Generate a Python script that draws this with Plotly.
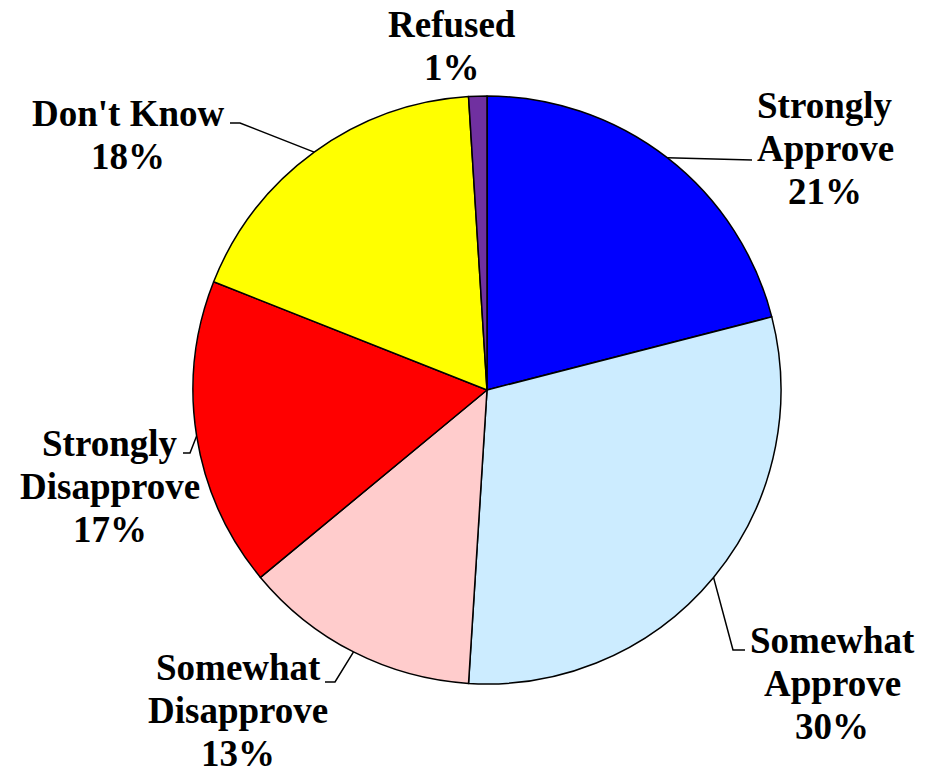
import numpy as np
import plotly.graph_objects as go

# ---- data ----
categories = ["Strongly Approve", "Somewhat Approve", "Somewhat Disapprove",
              "Strongly Disapprove", "Don't Know", "Refused"]
label_lines = [["Strongly", "Approve"], ["Somewhat", "Approve"], ["Somewhat", "Disapprove"],
               ["Strongly", "Disapprove"], ["Don't Know"], ["Refused"]]
values = [21, 30, 13, 17, 18, 1]

# ---- styles / layout ----
colors = ["#0000FF", "#CCECFF", "#FFCCCC", "#FF0000", "#FFFF00", "#7030A0"]
W, H = 929, 772
CX, CY, R = 487, 390, 294
FONT = "Liberation Serif, Times New Roman, serif"
FSIZE = 37
LINE_H = 43
label_xy = [(825, 148), (832, 683), (238, 710), (110, 486), (128, 135), (452, 46)]
leader_pts = [[(752, 160)], [(733, 650), (745, 650)], [(335, 682), (325, 682)],
              [(190, 453), (183, 453)], [(240, 123), (230, 123)], []]

total = sum(values)
fig = go.Figure()
fig.add_trace(go.Pie(
    labels=categories, values=values, sort=False, direction="clockwise", rotation=0,
    marker=dict(colors=colors, line=dict(color="black", width=1.5)),
    textinfo="none", hoverinfo="label+percent", showlegend=False,
    domain=dict(x=[(CX - R) / W, (CX + R) / W], y=[(H - CY - R) / H, (H - CY + R) / H]),
))

cum = np.cumsum(values)
annotations = []
for i, v in enumerate(values):
    mid = np.deg2rad((cum[i] - v / 2) / total * 360)
    ex, ey = CX + R * np.sin(mid), CY - R * np.cos(mid)
    if leader_pts[i]:
        xs = [ex] + [p[0] for p in leader_pts[i]]
        ys = [ey] + [p[1] for p in leader_pts[i]]
        fig.add_trace(go.Scatter(x=xs, y=ys, mode="lines", line=dict(color="black", width=1.5),
                                 hoverinfo="skip", showlegend=False))
    lines = label_lines[i] + [f"{round(v / total * 100)}%"]
    n = len(lines)
    lx, ly = label_xy[i]
    for j, t in enumerate(lines):
        annotations.append(dict(
            x=lx, y=ly + (j - (n - 1) / 2) * LINE_H, xref="x", yref="y", text=f"<b>{t}</b>",
            showarrow=False, xanchor="center", yanchor="middle",
            font=dict(family=FONT, size=FSIZE, color="black")))

fig.update_layout(
    width=W, height=H, margin=dict(l=0, r=0, t=0, b=0),
    paper_bgcolor="white", plot_bgcolor="rgba(0,0,0,0)",
    xaxis=dict(range=[0, W], visible=False, fixedrange=True),
    yaxis=dict(range=[H, 0], visible=False, fixedrange=True),
    annotations=annotations, showlegend=False,
)
fig.write_html("out.html", config={"displayModeBar": False},
               post_script="document.body.style.margin='0';document.body.style.overflow='hidden';")
